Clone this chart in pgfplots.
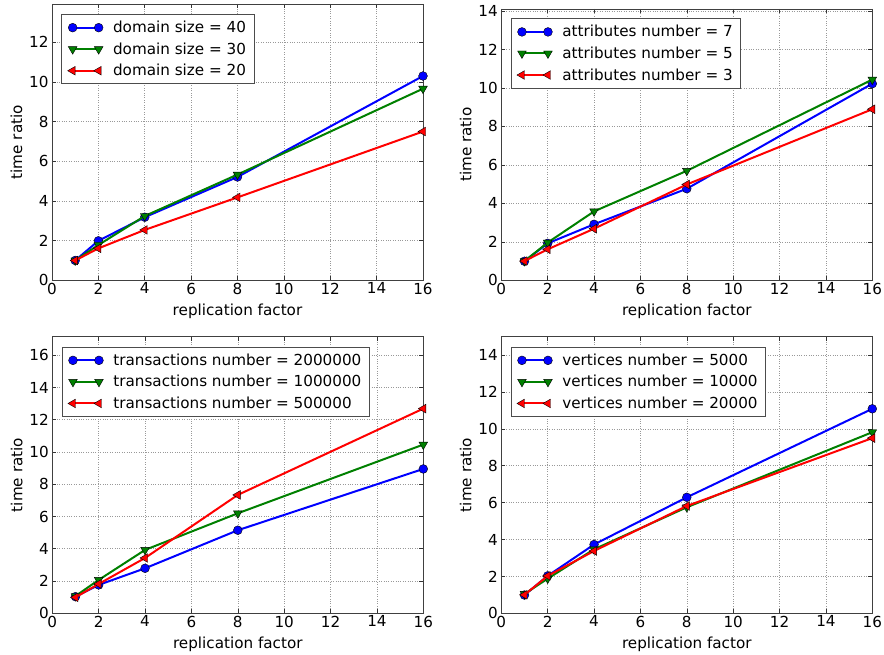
\documentclass[border=0pt]{standalone}
\usepackage{pgfplots}
\pgfplotsset{compat=1.18}
\usepackage{fontspec}
\setmainfont{DejaVu Sans}

\definecolor{mblue}{RGB}{0,0,255}
\definecolor{mgreen}{RGB}{0,128,0}
\definecolor{mred}{RGB}{255,0,0}

\newcommand{\chartfont}{\fontsize{15.2}{18}\selectfont}

\pgfplotsset{
  rep/.style={
    scale only axis, width=371pt,
    xmin=0, xmax=16, ymin=0,
    xtick={0,2,...,16}, ytick distance=2,
    tick align=inside, xtick pos=both, ytick pos=both,
    major tick length=4pt,
    tick style={black!80, line width=0.6pt},
    axis line style={black!75, line width=0.8pt},
    grid=major, major grid style={dotted, black!40, line width=0.6pt},
    font=\chartfont,
    xticklabel style={yshift=1pt},
    /pgf/number format/assume math mode=true,
    xlabel={replication factor}, ylabel={time ratio},
    xlabel style={yshift=-3pt},
    clip mode=individual,
    legend cell align=left,
    legend style={at={(rel axis cs:0.025,0.963)}, anchor=north west,
      draw=black!70, line width=0.8pt, fill=white,
      inner xsep=6pt, inner ysep=4.5pt, row sep=4.5pt,
      nodes={inner sep=2pt},
      /tikz/every odd column/.append style={column sep=8pt},
      font=\chartfont},
    legend image code/.code={\draw[##1] plot coordinates {(0pt,0pt) (26pt,0pt)};},
  },
  sA/.style={mblue, line width=2pt, mark=*, mark size=4.4pt,
    mark options={fill=mblue, draw=black, line width=0.4pt}},
  sB/.style={mgreen, line width=2pt, mark=triangle*, mark size=5pt,
    mark options={rotate=180, fill=mgreen, draw=black, line width=0.4pt}},
  sC/.style={mred, line width=2pt, mark=triangle*, mark size=5pt,
    mark options={rotate=90, fill=mred, draw=black, line width=0.4pt}},
}

\begin{document}
\begin{tikzpicture}[x=1pt,y=1pt]
\path[use as bounding box] (0,0) rectangle (884,654);

% domain size
\begin{axis}[rep, at={(52pt,373.7pt)}, anchor=south west, height=276.3pt, ymax=13.93]
\addplot[sA] coordinates {(1,1.00) (2,1.99) (4,3.18) (8,5.21) (16,10.30)};
\addlegendentry{domain size = 40}
\addplot[sB] coordinates {(1,1.00) (2,1.78) (4,3.24) (8,5.33) (16,9.66)};
\addlegendentry{domain size = 30}
\addplot[sC] coordinates {(1,1.00) (2,1.61) (4,2.54) (8,4.18) (16,7.50)};
\addlegendentry{domain size = 20}
\end{axis}

% attributes number
\begin{axis}[rep, at={(501.3pt,373.7pt)}, anchor=south west, height=271.3pt, ymax=14.1,
  legend style={at={(rel axis cs:0.025,0.965)}}]
\addplot[sA] coordinates {(1,0.99) (2,1.92) (4,2.91) (8,4.76) (16,10.22)};
\addlegendentry{attributes number = 7}
\addplot[sB] coordinates {(1,1.00) (2,1.96) (4,3.58) (8,5.69) (16,10.43)};
\addlegendentry{attributes number = 5}
\addplot[sC] coordinates {(1,1.00) (2,1.61) (4,2.68) (8,4.98) (16,8.89)};
\addlegendentry{attributes number = 3}
\end{axis}

% transactions number
\begin{axis}[rep, at={(52.3pt,40.7pt)}, anchor=south west, height=276.6pt, ymax=17.15]
\addplot[sA] coordinates {(1,1.03) (2,1.76) (4,2.79) (8,5.15) (16,8.95)};
\addlegendentry{transactions number = 2000000}
\addplot[sB] coordinates {(1,1.07) (2,2.07) (4,3.93) (8,6.20) (16,10.46)};
\addlegendentry{transactions number = 1000000}
\addplot[sC] coordinates {(1,0.99) (2,1.82) (4,3.43) (8,7.34) (16,12.69)};
\addlegendentry{transactions number = 500000}
\end{axis}

% vertices number
\begin{axis}[rep, at={(501.3pt,40.7pt)}, anchor=south west, height=276.6pt, ymax=15.0]
\addplot[sA] coordinates {(1,0.99) (2,2.03) (4,3.73) (8,6.29) (16,11.09)};
\addlegendentry{vertices number = 5000}
\addplot[sB] coordinates {(1,1.05) (2,1.88) (4,3.47) (8,5.75) (16,9.82)};
\addlegendentry{vertices number = 10000}
\addplot[sC] coordinates {(1,1.00) (2,2.03) (4,3.38) (8,5.82) (16,9.50)};
\addlegendentry{vertices number = 20000}
\end{axis}
\end{tikzpicture}
\end{document}
